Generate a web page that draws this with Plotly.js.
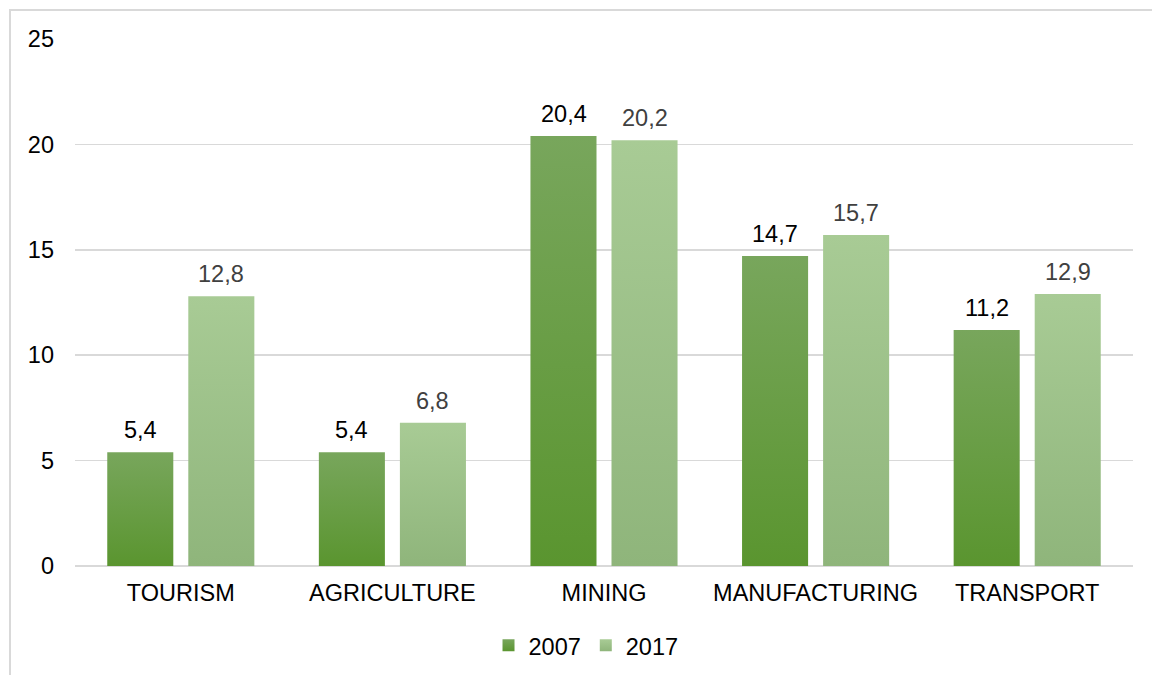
<!DOCTYPE html>
<html>
<head>
<meta charset="utf-8">
<script src="https://cdn.plot.ly/plotly-3.0.1.min.js"></script>
<style>
  html, body { margin: 0; padding: 0; background: #ffffff; }
  #wrap { position: relative; width: 1152px; height: 675px; overflow: hidden; }
  #chart { position: absolute; left: 0; top: 0; width: 1152px; height: 675px; }
  #frame { position: absolute; left: 9px; top: 9px; width: 1200px; height: 720px;
           border: 2px solid #d9d9d9; box-sizing: border-box; pointer-events: none; }
</style>
</head>
<body>
<div id="wrap">
  <div id="chart"></div>
  <div id="frame"></div>
</div>
<script>
const categories = ["TOURISM", "AGRICULTURE", "MINING", "MANUFACTURING", "TRANSPORT"];
const values2007 = [5.4, 5.4, 20.4, 14.7, 11.2];
const values2017 = [12.8, 6.8, 20.2, 15.7, 12.9];
const seriesNames = ["2007", "2017"];
const yTicks = [0, 5, 10, 15, 20, 25];

const FONT = "Liberation Sans, Arial, sans-serif";
const FS = 23.5;
const fmt = v => v.toFixed(1).replace(".", ",");

const traces = [
  {
    type: "bar", name: seriesNames[0], x: categories, y: values2007,
    marker: { color: "#679c42" }, hoverinfo: "x+y"
  },
  {
    type: "bar", name: seriesNames[1], x: categories, y: values2017,
    marker: { color: "#9dc387" }, hoverinfo: "x+y"
  }
];

const annotations = [];
categories.forEach((c, i) => {
  annotations.push({ x: c, y: values2007[i], text: fmt(values2007[i]), xref: "x", yref: "y",
    showarrow: false, xshift: -40.5, yanchor: "bottom", yshift: 7,
    font: { family: FONT, size: FS, color: "#000000" } });
  annotations.push({ x: c, y: values2017[i], text: fmt(values2017[i]), xref: "x", yref: "y",
    showarrow: false, xshift: 40.5, yanchor: "bottom", yshift: 7,
    font: { family: FONT, size: FS, color: "#404040" } });
});

const layout = {
  width: 1152, height: 675,
  margin: { l: 75, r: 19, t: 39, b: 109, autoexpand: false },
  paper_bgcolor: "#ffffff", plot_bgcolor: "#ffffff",
  font: { family: FONT, size: FS, color: "#000000" },
  barmode: "group", bargap: 0.234, bargroupgap: 0.185,
  separators: ", ",
  xaxis: {
    type: "category", showgrid: false, showline: false, zeroline: false,
    ticks: "", tickfont: { family: FONT, size: FS, color: "#000000" },
    ticklabelstandoff: 10, automargin: false
  },
  yaxis: {
    range: [0, 25], tickvals: yTicks, showgrid: true, gridcolor: "#d9d9d9", gridwidth: 1.5,
    zeroline: true, zerolinecolor: "#d9d9d9", zerolinewidth: 1.5, showline: false,
    ticks: "", ticklabelstandoff: 20, automargin: false,
    tickfont: { family: FONT, size: FS, color: "#000000" }
  },
  legend: {
    orientation: "h", x: 0.483, xanchor: "center", y: -0.151, yanchor: "middle",
    font: { family: FONT, size: FS, color: "#000000" }, itemwidth: 30,
    traceorder: "normal"
  },
  annotations: annotations,
  showlegend: true
};

function applyGradients(gd) {
  const svg = gd.querySelector("svg.main-svg");
  if (!svg) return;
  const ns = "http://www.w3.org/2000/svg";
  let defs = svg.querySelector("defs");
  if (!defs) { defs = document.createElementNS(ns, "defs"); svg.insertBefore(defs, svg.firstChild); }
  const grads = [["g2007", "#78a65c", "#5a952f"], ["g2017", "#a8cb95", "#8fb57b"]];
  grads.forEach(([id, top, bot]) => {
    const lg = document.createElementNS(ns, "linearGradient");
    lg.setAttribute("id", id);
    lg.setAttribute("x1", "0"); lg.setAttribute("y1", "0");
    lg.setAttribute("x2", "0"); lg.setAttribute("y2", "1");
    [[0, top], [1, bot]].forEach(([o, col]) => {
      const s = document.createElementNS(ns, "stop");
      s.setAttribute("offset", String(o));
      s.setAttribute("stop-color", col);
      lg.appendChild(s);
    });
    defs.appendChild(lg);
  });
  gd.querySelectorAll("g.trace.bars").forEach((g, i) => {
    g.querySelectorAll("g.point path").forEach(p => { p.style.fill = "url(#" + grads[i][0] + ")"; });
  });
  gd.querySelectorAll("g.legend g.traces").forEach((g, i) => {
    g.querySelectorAll("g.legendpoints path").forEach(p => {
      p.style.fill = "url(#" + grads[i][0] + ")";
    });
  });
}

Plotly.newPlot("chart", traces, layout, { staticPlot: true, displayModeBar: false })
  .then(applyGradients);
</script>
</body>
</html>
